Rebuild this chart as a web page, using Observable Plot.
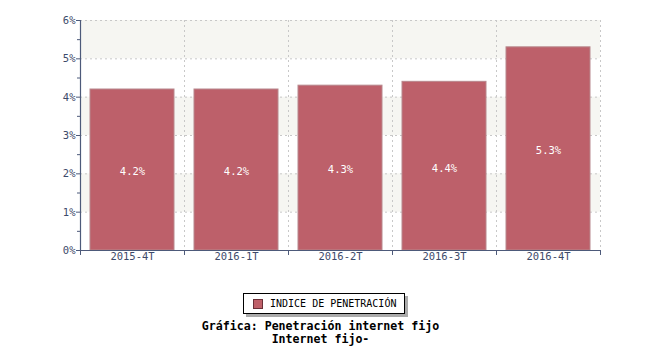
<!DOCTYPE html>
<html>
<head>
<meta charset="utf-8">
<script src="https://cdn.jsdelivr.net/npm/d3@7"></script>
<script src="https://cdn.jsdelivr.net/npm/@observablehq/plot@0.6"></script>
<style>
  html, body { margin: 0; padding: 0; background: #fff; }
  body { width: 650px; height: 350px; font-family: "DejaVu Sans Mono", monospace; }
  #chart svg { display: block; }
  #legendWrap { position: relative; height: 50px; }
  #legend {
    position: absolute; left: 243px; top: 23px; height: 21px; width: 162px;
    border: 1px solid #000; background: #fff; box-shadow: 3px 3px 0 #aaa;
    box-sizing: border-box; font-size: 10px; color: #000;
    display: flex; align-items: center; padding-left: 9px;
  }
  #legend .sw { width: 10px; height: 10px; background: #bf6069; border: 1px solid #6a3038; box-sizing: border-box; margin-right: 7px; }
  .cap { text-align: center; font-weight: bold; font-size: 11.6px; color: #000; line-height: 13px; margin-left: -9px; }
</style>
</head>
<body>
<div id="chart"></div>
<div id="legendWrap"><div id="legend"><span class="sw"></span><span>INDICE DE PENETRACIÓN</span></div></div>
<div class="cap">Gráfica: Penetración internet fijo</div>
<div class="cap">Internet fijo-</div>
<script>
const categories = ["2015-4T", "2016-1T", "2016-2T", "2016-3T", "2016-4T"];
const values = [4.2, 4.2, 4.3, 4.4, 5.3];
const yTicks = [0, 1, 2, 3, 4, 5, 6];
const yMinor = [0.5, 1.5, 2.5, 3.5, 4.5, 5.5];
const shadedBands = [[1, 2], [3, 4], [5, 6]];

const data = categories.map((c, i) => ({cat: c, v: values[i]}));
const W = 650, ML = 80, MR = 50;
const step = (W - ML - MR) / categories.length;
const axisColor = "#4d5a7a";
const font = "DejaVu Sans Mono";

const chart = Plot.plot({
  width: W, height: 270,
  marginLeft: ML, marginRight: MR, marginTop: 20, marginBottom: 20,
  style: {fontFamily: font, fontSize: "10px", background: "#fff"},
  x: {domain: categories, paddingInner: 0.19, paddingOuter: 0.095, axis: null, label: null},
  y: {domain: [0, 6], axis: null, label: null},
  marks: [
    Plot.rect(shadedBands, {y1: d => d[0], y2: d => d[1], fill: "#f6f6f2"}),
    Plot.ruleY(yTicks.slice(1), {stroke: "#c8c8c8", strokeDasharray: "2,3"}),
    Plot.ruleX(categories, {x: d => d, dx: step / 2, stroke: "#c8c8c8", strokeDasharray: "2,3"}),
    Plot.barY(data, {x: "cat", y: "v", fill: "#bd606a", stroke: "#b8888d", strokeWidth: 1}),
    Plot.text(data, {x: "cat", y: d => d.v / 2, text: d => d.v.toFixed(1) + "%", fill: "#fff", fontSize: 10.5, dy: 2}),
    // left axis
    Plot.ruleX([0], {x: () => categories[0], dx: -step / 2, y1: 0, y2: 6, stroke: axisColor, strokeWidth: 1.2}),
    Plot.axisY({ticks: yTicks, tickFormat: d => d + "%", tickSize: 4, stroke: axisColor, color: "#3d4a6a", fontSize: 10.5, tickPadding: 1, label: null}),
    Plot.axisY({ticks: yMinor, tickFormat: () => "", tickSize: 3, stroke: axisColor, label: null}),
    // bottom axis
    Plot.ruleY([0], {stroke: axisColor, strokeWidth: 1.2}),
    Plot.ruleX(categories, {x: d => d, dx: step / 2, y1: () => 0, y2: () => -0.13, stroke: axisColor}),
    Plot.ruleX(categories.slice(0, 1), {x: d => d, dx: -step / 2, y1: () => 0, y2: () => -0.13, stroke: axisColor}),
    Plot.axisX({tickSize: 0, tickPadding: 2, color: "#3d4a6a", fontSize: 10.5, label: null})
  ]
});
document.getElementById("chart").appendChild(chart);
</script>
</body>
</html>
